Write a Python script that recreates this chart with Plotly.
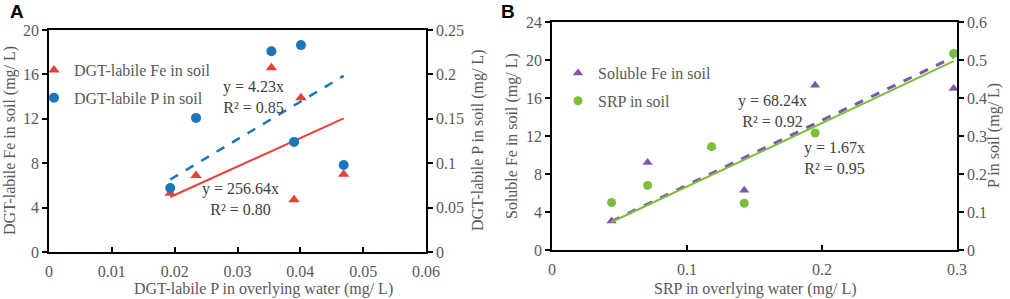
import plotly.graph_objects as go

# ---------------- Data ----------------
# Panel A
a_x = [0.0193, 0.0234, 0.0354, 0.0390, 0.0401, 0.0469]      # DGT-labile P in overlying water
a_fe = [5.3, 6.9, 16.6, 4.7, 13.9, 7.0]                      # DGT-labile Fe in soil (left axis)
a_p = [0.072, 0.151, 0.226, 0.124, 0.233, 0.098]             # DGT-labile P in soil (right axis)
a_fe_slope = 256.64
a_p_slope = 4.23

# Panel B
b_x = [0.0441, 0.0708, 0.1182, 0.1424, 0.1949, 0.2975]       # SRP in overlying water
b_fe = [3.05, 9.2, 10.9, 6.3, 17.35, 17.0]                    # Soluble Fe in soil (left axis)
b_p = [0.125, 0.170, 0.272, 0.123, 0.308, 0.517]              # SRP in soil (right axis)
b_fe_slope = 68.24
b_p_slope = 1.67

# Tick labels
a_xticks = [0, 0.01, 0.02, 0.03, 0.04, 0.05, 0.06]
a_xtext = ["0", "0.01", "0.02", "0.03", "0.04", "0.05", "0.06"]
a_yl_ticks = [0, 4, 8, 12, 16, 20]
a_yr_ticks = [0, 0.05, 0.1, 0.15, 0.2, 0.25]
a_yr_text = ["0", "0.05", "0.1", "0.15", "0.2", "0.25"]
b_xticks = [0, 0.1, 0.2, 0.3]
b_xtext = ["0", "0.1", "0.2", "0.3"]
b_yl_ticks = [0, 4, 8, 12, 16, 20, 24]
b_yr_ticks = [0, 0.1, 0.2, 0.3, 0.4, 0.5, 0.6]
b_yr_text = ["0", "0.1", "0.2", "0.3", "0.4", "0.5", "0.6"]

RED = "#E8413A"
BLUE = "#1B75BC"
PURPLE = "#7E57A8"
GREEN = "#7DBE3C"
TXT = "#595959"
FONT = "'Liberation Serif', 'Times New Roman', serif"
FS = 16


def fit_line(xs, slope):
    lo, hi = min(xs), max(xs)
    return [lo, hi], [slope * lo, slope * hi]


fig = go.Figure()

# ---- Panel A ----
lx, ly = fit_line(a_x, a_fe_slope)
fig.add_trace(go.Scatter(x=lx, y=ly, mode="lines", line=dict(color=RED, width=2),
                         xaxis="x", yaxis="y", showlegend=False, hoverinfo="skip"))
lx, ly = fit_line(a_x, a_p_slope)
fig.add_trace(go.Scatter(x=lx, y=ly, mode="lines", line=dict(color=BLUE, width=2.5, dash="dash"),
                         xaxis="x", yaxis="y2", showlegend=False, hoverinfo="skip"))
fig.add_trace(go.Scatter(x=a_x, y=a_fe, mode="markers", name="DGT-labile Fe in soil",
                         marker=dict(symbol="triangle-up", size=10, color=RED),
                         xaxis="x", yaxis="y", legend="legend", legendgroup="a1", cliponaxis=False))
fig.add_trace(go.Scatter(x=a_x, y=a_p, mode="markers", name="DGT-labile P in soil",
                         marker=dict(symbol="circle", size=10, color=BLUE),
                         xaxis="x", yaxis="y2", legend="legend", legendgroup="a2", cliponaxis=False))

# ---- Panel B ----
lx, ly = fit_line(b_x, b_p_slope)
fig.add_trace(go.Scatter(x=lx, y=ly, mode="lines", line=dict(color=GREEN, width=2),
                         xaxis="x2", yaxis="y4", showlegend=False, hoverinfo="skip"))
lx, ly = fit_line(b_x, b_fe_slope)
fig.add_trace(go.Scatter(x=lx, y=ly, mode="lines", line=dict(color=PURPLE, width=3, dash="dash"),
                         xaxis="x2", yaxis="y3", showlegend=False, hoverinfo="skip"))
fig.add_trace(go.Scatter(x=b_x, y=b_fe, mode="markers", name="Soluble Fe in soil",
                         marker=dict(symbol="triangle-up", size=9, color=PURPLE),
                         xaxis="x2", yaxis="y3", legend="legend2", legendgroup="b1", cliponaxis=False))
fig.add_trace(go.Scatter(x=b_x, y=b_p, mode="markers", name="SRP in soil",
                         marker=dict(symbol="circle", size=9, color=GREEN),
                         xaxis="x2", yaxis="y4", legend="legend2", legendgroup="b2", cliponaxis=False))

W, H = 1010, 299
def px(v):
    return v / W
def py(v):
    return 1 - v / H

axis_common = dict(showline=True, linecolor="#000000", linewidth=1.5, showgrid=False,
                   zeroline=False, tickfont=dict(family=FONT, size=FS, color=TXT),
                   ticklen=5, tickcolor="#000000", tickwidth=1.5, tickmode="array",
                   automargin=False)

fig.update_layout(
    width=W, height=H,
    margin=dict(l=0, r=0, t=0, b=0, autoexpand=False),
    paper_bgcolor="white", plot_bgcolor="white",
    font=dict(family=FONT, size=FS, color=TXT),
    xaxis=dict(domain=[px(49), px(426)], range=[0, 0.06], tickvals=a_xticks, ticktext=a_xtext,
               anchor="y", ticks="inside", mirror=True, ticklabelstandoff=4, **axis_common),
    yaxis=dict(domain=[py(252), py(30)], range=[0, 20], tickvals=a_yl_ticks, anchor="x",
               ticks="outside", **axis_common),
    yaxis2=dict(domain=[py(252), py(30)], range=[0, 0.25], tickvals=a_yr_ticks, ticktext=a_yr_text,
                overlaying="y", side="right", anchor="x", ticks="outside", **axis_common),
    xaxis2=dict(domain=[px(552), px(957)], range=[0, 0.3], tickvals=b_xticks, ticktext=b_xtext,
                anchor="y3", ticks="inside", mirror=True, ticklabelstandoff=4, **axis_common),
    yaxis3=dict(domain=[py(250), py(22)], range=[0, 24], tickvals=b_yl_ticks, anchor="x2",
                ticks="outside", **axis_common),
    yaxis4=dict(domain=[py(250), py(22)], range=[0, 0.6], tickvals=b_yr_ticks, ticktext=b_yr_text,
                overlaying="y3", side="right", anchor="x2", ticks="outside", **axis_common),
    legend=dict(x=px(34), y=py(53), xanchor="left", yanchor="top", bgcolor="rgba(0,0,0,0)",
                font=dict(family=FONT, size=FS, color=TXT), tracegroupgap=4, itemwidth=30),
    legend2=dict(x=px(558), y=py(56), xanchor="left", yanchor="top", bgcolor="rgba(0,0,0,0)",
                 font=dict(family=FONT, size=FS, color=TXT), tracegroupgap=4, itemwidth=30),
    showlegend=True,
)

ann_font = dict(family=FONT, size=FS, color="#404040")
title_font = dict(family=FONT, size=FS, color=TXT)
C = dict(showarrow=False, xanchor="center", yanchor="middle")
annotations = [
    # equation labels
    dict(x=0.0326, y=14.0, xref="x", yref="y", text="y = 4.23x<br>R² = 0.85", font=ann_font, align="center", **C),
    dict(x=0.0304, y=4.77, xref="x", yref="y", text="y = 256.64x<br>R² = 0.80", font=ann_font, align="center", **C),
    dict(x=0.1637, y=14.6, xref="x2", yref="y3", text="y = 68.24x<br>R² = 0.92", font=ann_font, align="center", **C),
    dict(x=0.209, y=9.67, xref="x2", yref="y3", text="y = 1.67x<br>R² = 0.95", font=ann_font, align="center", **C),
    # axis titles
    dict(x=px(263), y=py(289), xref="paper", yref="paper", text="DGT-labile P in overlying water (mg/ L)",
         font=title_font, **C),
    dict(x=px(10), y=py(141), xref="paper", yref="paper", text="DGT-labile Fe in soil (mg/ L)",
         textangle=-90, font=title_font, **C),
    dict(x=px(478), y=py(141), xref="paper", yref="paper", text="DGT-labile P in soil (mg/ L)",
         textangle=-90, font=title_font, **C),
    dict(x=px(755), y=py(289), xref="paper", yref="paper", text="SRP in overlying water (mg/ L)",
         font=title_font, **C),
    dict(x=px(512), y=py(136), xref="paper", yref="paper", text="Soluble Fe in soil (mg/ L)",
         textangle=-90, font=title_font, **C),
    dict(x=px(994), y=py(136), xref="paper", yref="paper", text="P in soil (mg/ L)",
         textangle=-90, font=title_font, **C),
    # panel letters
    dict(x=px(17), y=py(12), xref="paper", yref="paper", text="<b>A</b>",
         font=dict(family="Liberation Sans", size=19, color="#000000"), **C),
    dict(x=px(508), y=py(12), xref="paper", yref="paper", text="<b>B</b>",
         font=dict(family="Liberation Sans", size=19, color="#000000"), **C),
]
fig.update_layout(annotations=annotations)

fig.write_html("out.html", config={"displayModeBar": False},
               post_script="document.body.style.margin='0';document.body.style.overflow='hidden';")
